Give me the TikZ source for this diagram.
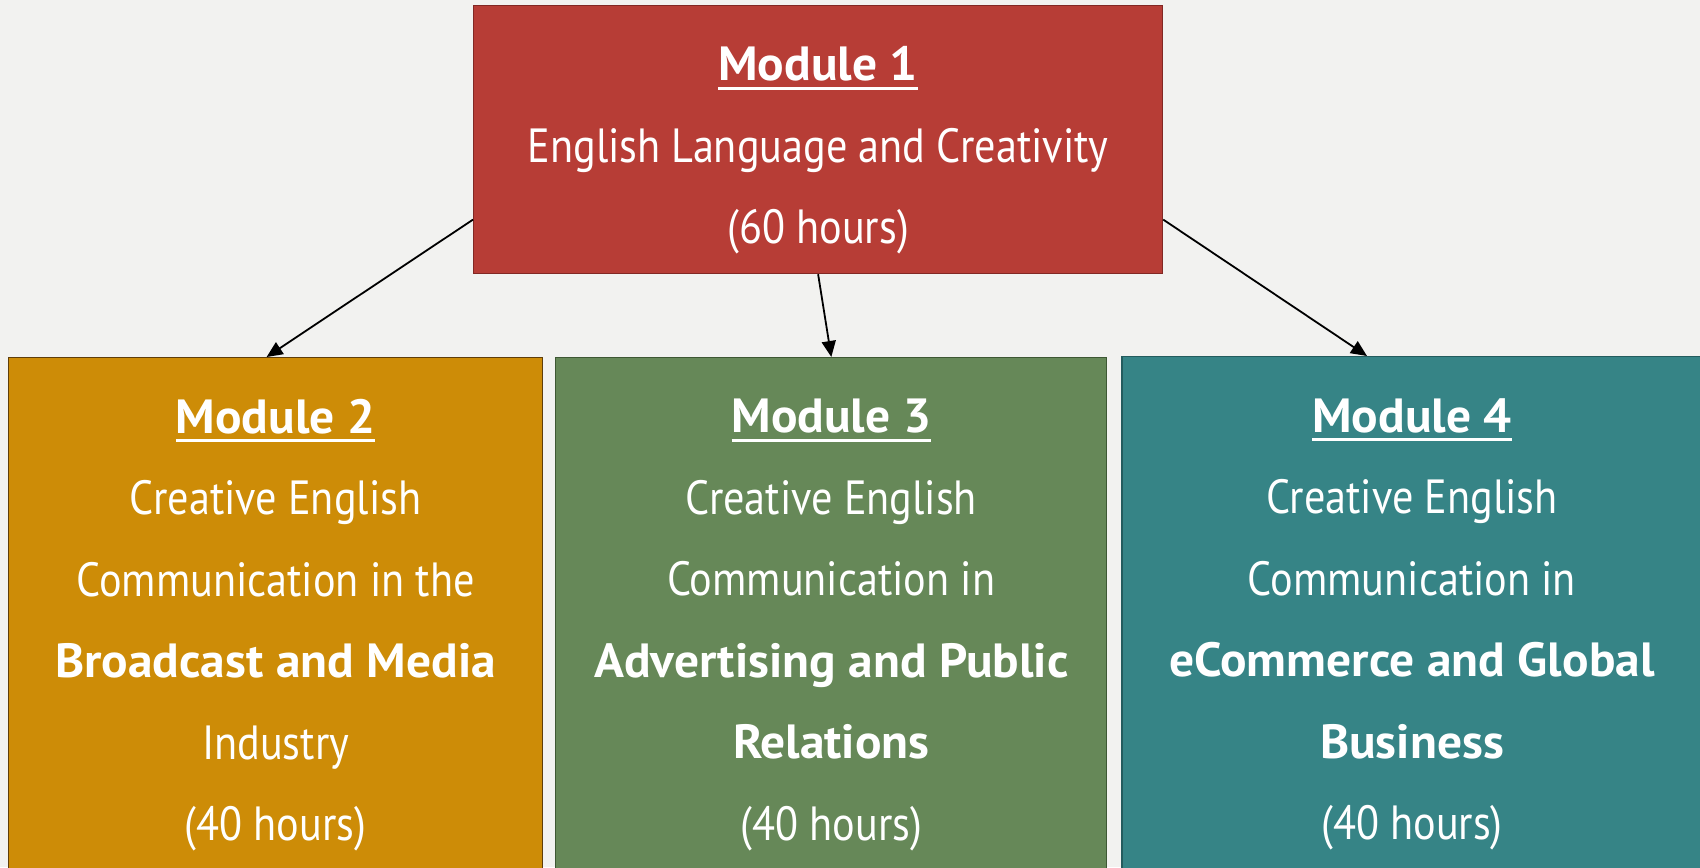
\documentclass[tikz,border=0pt]{standalone}
\usepackage{fontspec}
\setmainfont{PT Sans}[FakeStretch=0.88, BoldFeatures={FakeStretch=1.03}]
\usetikzlibrary{arrows.meta, positioning}

\definecolor{paper}{RGB}{242,242,240}
\definecolor{modred}{RGB}{183,61,54}
\definecolor{modredline}{RGB}{130,40,36}
\definecolor{modgold}{RGB}{205,140,7}
\definecolor{modgoldline}{RGB}{95,62,10}
\definecolor{modgreen}{RGB}{102,136,88}
\definecolor{modgreenline}{RGB}{62,88,52}
\definecolor{modteal}{RGB}{54,132,134}
\definecolor{modtealline}{RGB}{36,92,94}

\tikzstyle{every node}=[rectangle, text=white, align=center, font=\fontsize{24}{40.75}\selectfont]
\tikzstyle{modbox}=[draw, line width=0.6pt, inner sep=0pt]

% bold title with a heavy underline
\newcommand{\modhead}[1]{\setbox0=\hbox{\bfseries #1}\rlap{\rule[-4.5pt]{\wd0}{1.6pt}}\box0}

\begin{document}
\begin{tikzpicture}[x=0.5pt, y=-0.5pt]
    \fill[paper] (0,0) rectangle (1700,867);
    \clip (0,0) rectangle (1700,867);

    \node [modbox, fill=modred, draw=modredline, anchor=north west,
           minimum width=344.5pt, minimum height=134pt] (M1) at (473,5)
        {\rule{0pt}{28pt}\modhead{Module 1}\\ English Language and Creativity\\ (60 hours)};
    \node [modbox, fill=modgold, draw=modgoldline, anchor=north west,
           minimum width=267pt, minimum height=267.5pt] (M2) at (8,357)
        {\modhead{Module 2}\\ Creative English\\ Communication in the\\
         \textbf{Broadcast and Media}\\ Industry\\ (40 hours)};
    \node [modbox, fill=modgreen, draw=modgreenline,
           minimum width=275.5pt, minimum height=267.5pt,
           right=6pt of M2.north east, anchor=north west] (M3)
        {\modhead{Module 3}\\ Creative English\\ Communication in\\
         \textbf{Advertising and Public}\\ \textbf{Relations}\\ (40 hours)};
    \node [modbox, fill=modteal, draw=modtealline,
           minimum width=290pt, minimum height=267.5pt,
           right=7pt of M3.north east, anchor=north west, yshift=0.5pt] (M4)
        {\modhead{Module 4}\\ Creative English\\ Communication in\\
         \textbf{eCommerce and Global}\\ \textbf{Business}\\ (40 hours)};

    \draw[-{Triangle[length=8pt, width=7pt]}, line width=0.9pt] ([yshift=-40pt]M1.west) -- ([xshift=-4.5pt]M2.north);
    \draw[-{Triangle[length=8pt, width=7pt]}, line width=0.9pt] (M1.south) -- (M3.north);
    \draw[-{Triangle[length=8pt, width=7pt]}, line width=0.9pt] ([yshift=-40pt]M1.east) -- ([xshift=-22.5pt]M4.north);
\end{tikzpicture}
\end{document}
